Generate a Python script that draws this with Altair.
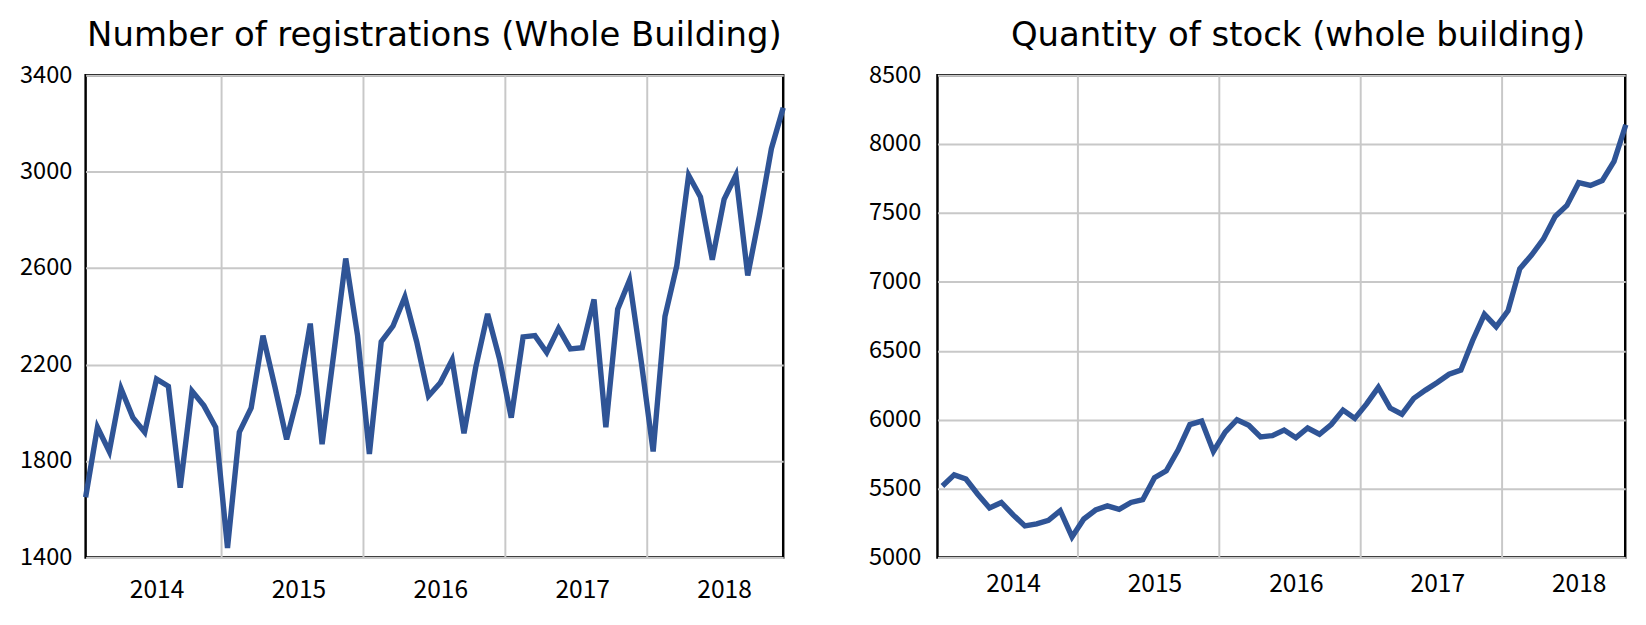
import altair as alt
import pandas as pd

# monthly series, Jan 2014 onwards
years = [2014, 2015, 2016, 2017, 2018]
months = [f"{y}-{m:02d}" for y in years for m in range(1, 13)]

registrations = [
    1650, 1940, 1840, 2100, 1980, 1920, 2140, 2110, 1690, 2090, 2030, 1940,
    1440, 1920, 2020, 2320, 2110, 1890, 2080, 2370, 1870, 2250, 2640, 2320,
    1830, 2295, 2360, 2480, 2295, 2070, 2125, 2220, 1915, 2190, 2410, 2225,
    1980, 2315, 2320, 2250, 2350, 2265, 2270, 2470, 1940, 2430, 2550, 2210,
    1840, 2400, 2610, 2985, 2895, 2635, 2885, 2985, 2570, 2820, 3095, 3265,
]

stock = [
    5520, 5600, 5570, 5460, 5360, 5400, 5310, 5230, 5245, 5270, 5340, 5150,
    5280, 5345, 5375, 5350, 5400, 5420, 5580, 5630, 5780, 5965, 5990, 5770,
    5910, 6000, 5960, 5875, 5885, 5925, 5870, 5940, 5895, 5965, 6070, 6010,
    6115, 6235, 6085, 6040, 6155, 6215, 6270, 6330, 6360, 6575, 6765, 6675,
    6790, 7095, 7195, 7310, 7475, 7555, 7720, 7700, 7735, 7875, 8140,
]

year_breaks = [11.5, 23.5, 35.5, 47.5]
label_pos = [6, 18, 30, 42, 54]

FONT = "Noto Sans CJK JP"
TITLE_FONT = "DejaVu Sans"
LINE = "#2F5496"
GRID = "#C8C8C8"

reg_df = pd.DataFrame({"i": range(len(registrations)), "month": months[:len(registrations)],
                       "value": registrations})
stock_df = pd.DataFrame({"i": range(len(stock)), "month": months[:len(stock)],
                         "value": stock})
breaks_df = pd.DataFrame({"i": year_breaks})


def panel(df, title, domain_x, y_lo, y_hi, y_step, w, h, ylab_pad, xlab_pad, title_dx):
    xscale = alt.Scale(domain=domain_x, nice=False, zero=False)
    xaxis = alt.Axis(values=label_pos, labelExpr="2014 + floor(datum.value / 12)",
                     grid=False, ticks=False, domain=False, title=None,
                     labelFont=FONT, labelFontSize=25, labelColor="black",
                     labelPadding=xlab_pad, labelFlush=False)
    yaxis = alt.Axis(values=list(range(y_lo, y_hi + 1, y_step)), format="d", grid=True,
                     gridColor=GRID, gridWidth=2, ticks=False, domain=False,
                     title=None, labelFont=FONT, labelFontSize=24,
                     labelColor="black", labelPadding=ylab_pad,
                     minExtent=72, maxExtent=72)
    yscale = alt.Scale(domain=[y_lo, y_hi], nice=False, zero=False)

    rules = alt.Chart(breaks_df).mark_rule(color=GRID, strokeWidth=2).encode(
        x=alt.X("i:Q", scale=xscale, axis=xaxis)
    )
    line = alt.Chart(df).mark_line(color=LINE, strokeWidth=5.5, strokeJoin="miter").encode(
        x=alt.X("i:Q", scale=xscale, axis=xaxis),
        y=alt.Y("value:Q", scale=yscale, axis=yaxis),
    )
    return (rules + line).properties(
        width=w, height=h,
        title=alt.TitleParams(title, font=TITLE_FONT, fontSize=34.5, fontWeight="normal",
                              color="black", anchor="middle", frame="group",
                              offset=10, dx=title_dx),
    )


left = panel(reg_df, "Number of registrations (Whole Building)", [0, 59],
             1400, 3400, 400, 710, 491, 14, 21, 0)
right = panel(stock_df, "Quantity of stock (whole building)", [-0.42, 57.95],
              5000, 8500, 500, 700, 491, 17, 15, 17)

chart = alt.hconcat(left, right, spacing=70).properties(
    padding={"left": 5, "top": 4, "right": 0, "bottom": 0},
    background="white",
).configure_view(stroke="black", strokeWidth=2.5)

chart.save("out.html", embed_options={"renderer": "svg", "actions": False})
